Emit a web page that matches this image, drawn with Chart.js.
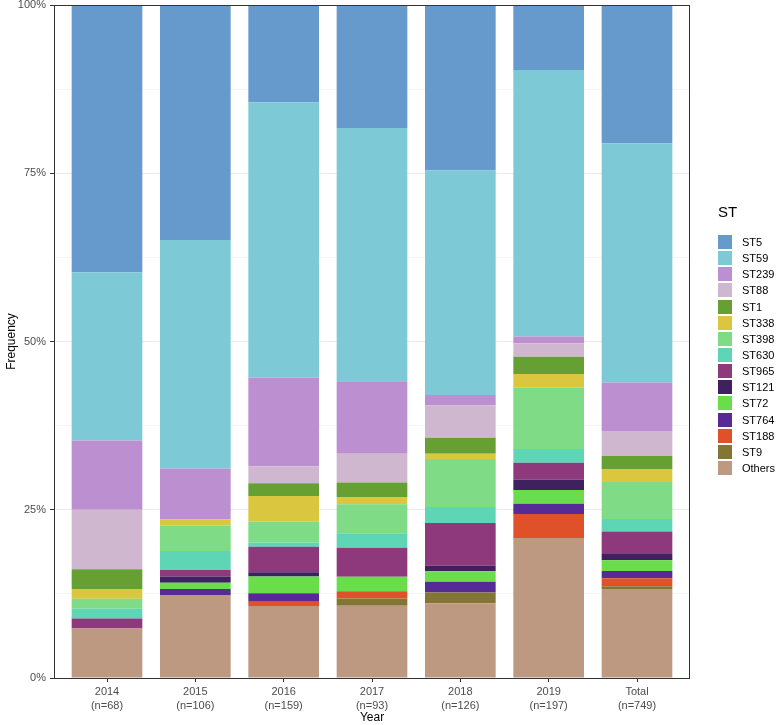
<!DOCTYPE html>
<html>
<head>
<meta charset="utf-8">
<script src="https://cdn.jsdelivr.net/npm/chart.js@4.4.1/dist/chart.umd.min.js"></script>
<style>
  html, body { margin: 0; padding: 0; background: #fff; }
  #wrap { position: relative; width: 777px; height: 725px; font-family: "Liberation Sans", Arial, sans-serif; }
  #legend { position: absolute; left: 718px; top: 203px; }
  #legend .title { font-size: 15px; color: #000; height: 22px; line-height: 18px; margin-bottom: 9px; }
  #legend .item { display: flex; align-items: center; height: 16.15px; font-size: 11px; color: #000; }
  #legend .key { width: 14px; height: 14px; margin-right: 10px; }
</style>
</head>
<body>
<div id="wrap">
  <canvas id="stChart" width="777" height="725"></canvas>
  <div id="legend"></div>
</div>
<script>
// categories and sample sizes
const years = ["2014", "2015", "2016", "2017", "2018", "2019", "Total"];
const sampleSizes = [68, 106, 159, 93, 126, 197, 749];

// isolate counts per ST
const ST5 = [27, 37, 23, 17, 31, 19, 154];
const ST59 = [17, 36, 65, 35, 42, 78, 266];
const ST239 = [7, 8, 21, 10, 2, 2, 54];
const ST88 = [6, 0, 4, 4, 6, 4, 28];
const ST1 = [2, 0, 3, 2, 3, 5, 15];
const ST338 = [1, 1, 6, 1, 1, 4, 14];
const ST398 = [1, 4, 5, 4, 9, 18, 41];
const ST630 = [1, 3, 1, 2, 3, 4, 14];
const ST965 = [1, 1, 6, 4, 8, 5, 25];
const ST121 = [0, 1, 1, 0, 1, 3, 7];
const ST72 = [0, 1, 4, 2, 2, 4, 12];
const ST764 = [0, 1, 2, 0, 2, 3, 8];
const ST188 = [0, 0, 1, 1, 0, 7, 9];
const ST9 = [0, 0, 0, 1, 2, 0, 3];
const Others = [5, 13, 17, 10, 14, 41, 99];

const yTicks = [0, 25, 50, 75, 100];

// legend order (top to bottom); stacking goes the other way
const series = [
  ["ST5", ST5, "#6699cc"],
  ["ST59", ST59, "#7dc9d6"],
  ["ST239", ST239, "#bc8fd0"],
  ["ST88", ST88, "#cfb8cf"],
  ["ST1", ST1, "#66a033"],
  ["ST338", ST338, "#dac63f"],
  ["ST398", ST398, "#7fdb86"],
  ["ST630", ST630, "#5ed6b5"],
  ["ST965", ST965, "#8d397b"],
  ["ST121", ST121, "#3f2160"],
  ["ST72", ST72, "#69de4a"],
  ["ST764", ST764, "#562b95"],
  ["ST188", ST188, "#e05129"],
  ["ST9", ST9, "#837634"],
  ["Others", Others, "#bd9982"],
];

const colTotals = years.map((_, i) => series.reduce((s, d) => s + d[1][i], 0));

const datasets = series.slice().reverse().map(([name, counts, color]) => ({
  label: name,
  data: counts.map((c, i) => ({ x: i, y: (c / colTotals[i]) * 100 })),
  backgroundColor: color,
  borderWidth: 0,
  barPercentage: 0.8,
  categoryPercentage: 1,
}));

// legend
const legendEl = document.getElementById("legend");
legendEl.innerHTML =
  '<div class="title">ST</div>' +
  series.map(([name, , color]) =>
    `<div class="item"><span class="key" style="background:${color}"></span>${name}</div>`
  ).join("");

const panelBorder = {
  id: "panelBorder",
  afterDraw(chart) {
    const { ctx, chartArea: a } = chart;
    ctx.save();
    ctx.strokeStyle = "#333";
    ctx.lineWidth = 1;
    ctx.strokeRect(a.left + 0.5, a.top + 0.5, a.right - a.left - 1, a.bottom - a.top);
    ctx.restore();
  },
};

new Chart(document.getElementById("stChart"), {
  type: "bar",
  data: { datasets },
  plugins: [panelBorder],
  options: {
    responsive: false,
    animation: false,
    events: [],
    layout: { padding: { top: 0, right: 87, bottom: 0, left: 0 } },
    plugins: { legend: { display: false }, tooltip: { enabled: false } },
    scales: {
      x: {
        type: "linear",
        stacked: true,
        offset: false,
        min: -0.6,
        max: 6.6,
        afterBuildTicks: (s) => { s.ticks = years.map((_, i) => ({ value: i })); },
        afterFit: (s) => { s.height = 47; s.paddingLeft = 0; s.paddingRight = 0; },
        grid: { offset: false, drawOnChartArea: false, drawTicks: true, tickLength: 4, tickColor: "#333", tickWidth: 1 },
        border: { display: false },
        ticks: {
          autoSkip: false,
          maxRotation: 0,
          padding: 3,
          color: "#4d4d4d",
          font: { family: "Liberation Sans", size: 11, lineHeight: 1.25 },
          callback: (v) => [years[v], "(n=" + sampleSizes[v] + ")"],
        },
        title: {
          display: true,
          text: "Year",
          color: "#000",
          font: { family: "Liberation Sans", size: 12 },
          padding: { top: 0, bottom: 0 },
        },
      },
      y: {
        stacked: true,
        min: 0,
        max: 100,
        afterFit: (s) => { s.width = 54; s.paddingTop = 5; s.paddingBottom = 0; },
        border: { display: false },
        grid: {
          color: (c) => (c.tick && c.tick.value % 25 === 0 ? "#ebebeb" : "#f2f2f2"),
          lineWidth: (c) => (c.tick && c.tick.value % 25 === 0 ? 1 : 0.8),
          tickColor: (c) => (c.tick && yTicks.includes(c.tick.value) ? "#333" : "rgba(0,0,0,0)"),
          tickLength: 4,
          tickWidth: 1,
        },
        ticks: {
          stepSize: 12.5,
          padding: 4,
          color: "#4d4d4d",
          font: { family: "Liberation Sans", size: 11 },
          callback: (v) => (yTicks.includes(v) ? v + "%" : ""),
        },
        title: {
          display: true,
          text: "Frequency",
          color: "#000",
          font: { family: "Liberation Sans", size: 12 },
          padding: { top: 4, bottom: 3 },
        },
      },
    },
  },
});
</script>
</body>
</html>
